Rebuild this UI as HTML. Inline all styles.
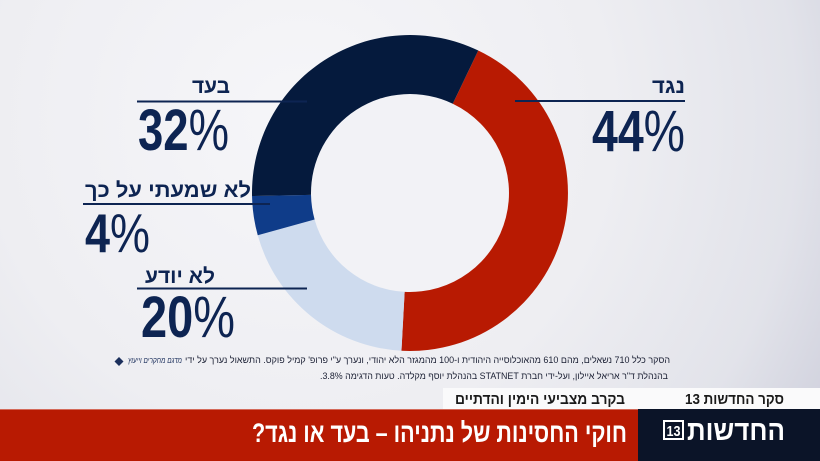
<!DOCTYPE html>
<html>
<head>
<meta charset="utf-8">
<style>
html,body{margin:0;padding:0;width:820px;height:461px;overflow:hidden;background:#eeeef2;}
svg{display:block;}
.heb{font-family:"Liberation Sans","DejaVu Sans",sans-serif;direction:rtl;unicode-bidi:embed;}
.num{font-family:"Liberation Sans","DejaVu Sans",sans-serif;}
</style>
</head>
<body>
<svg width="820" height="461" viewBox="0 0 820 461" xmlns="http://www.w3.org/2000/svg">
  <defs>
    <radialGradient id="bg" cx="300" cy="120" r="620" gradientUnits="userSpaceOnUse">
      <stop offset="0" stop-color="#f6f6f9"/>
      <stop offset="0.5" stop-color="#eeeef2"/>
      <stop offset="0.8" stop-color="#e2e3ea"/>
      <stop offset="1" stop-color="#cdcedb"/>
    </radialGradient>
  </defs>
  <rect x="0" y="0" width="820" height="461" fill="url(#bg)"/>

  <!-- donut -->
  <path d="M478.27,50.52 A158,158 0 0 1 401.45,350.76 L404.64,291.85 A99,99 0 0 0 452.78,103.72 Z" fill="#b81a02"/>
  <path d="M401.45,350.76 A158,158 0 0 1 257.75,235.22 L314.6,219.45 A99,99 0 0 0 404.64,291.85 Z" fill="#cedbee"/>
  <path d="M257.75,235.22 A158,158 0 0 1 252.03,196.03 L311.02,194.90 A99,99 0 0 0 314.6,219.45 Z" fill="#0f3c89"/>
  <path d="M252.03,196.03 A158,158 0 0 1 478.27,50.52 L452.78,103.72 A99,99 0 0 0 311.02,194.90 Z" fill="#051a3d"/>
  <circle cx="410" cy="193" r="98.5" fill="#f2f2f6"/>

  <!-- leader lines -->
  <rect x="137" y="100.5" width="170" height="2" fill="#0d2452"/>
  <rect x="515" y="100" width="170" height="2" fill="#0d2452"/>
  <rect x="83" y="203" width="187" height="2" fill="#0d2452"/>
  <rect x="137" y="287.5" width="170" height="2" fill="#0d2452"/>

  <!-- labels -->
  <text class="heb" x="211" y="93" font-size="21" font-weight="bold" fill="#0d2452" text-anchor="middle" textLength="38" lengthAdjust="spacingAndGlyphs">בעד</text>
  <text class="num" x="138" y="150" font-size="58" font-weight="bold" fill="#0d2452" textLength="91" lengthAdjust="spacingAndGlyphs">32<tspan font-weight="normal">%</tspan></text>

  <text class="heb" x="668.5" y="93" font-size="21" font-weight="bold" fill="#0d2452" text-anchor="middle" textLength="33" lengthAdjust="spacingAndGlyphs">נגד</text>
  <text class="num" x="592" y="151" font-size="58" font-weight="bold" fill="#0d2452" textLength="93" lengthAdjust="spacingAndGlyphs">44<tspan font-weight="normal">%</tspan></text>

  <text class="heb" x="168" y="197" font-size="21" font-weight="bold" fill="#0d2452" text-anchor="middle" textLength="166" lengthAdjust="spacingAndGlyphs">לא שמעתי על כך</text>
  <text class="num" x="85" y="252" font-size="55" font-weight="bold" fill="#0d2452" textLength="65" lengthAdjust="spacingAndGlyphs">4<tspan font-weight="normal">%</tspan></text>

  <text class="heb" x="180" y="283" font-size="21" font-weight="bold" fill="#0d2452" text-anchor="middle" textLength="70" lengthAdjust="spacingAndGlyphs">לא יודע</text>
  <text class="num" x="141" y="337" font-size="58" font-weight="bold" fill="#0d2452" textLength="94" lengthAdjust="spacingAndGlyphs">20<tspan font-weight="normal">%</tspan></text>

  <!-- footnote -->
  <path d="M119,357 L123.5,361.5 L119,366 L114.5,361.5 Z" fill="#1b2f5c"/>
  <text class="heb" x="155" y="363" font-size="8" font-style="italic" fill="#1b2f5c" text-anchor="middle" textLength="54" lengthAdjust="spacingAndGlyphs">מדגם מחקרים וייעוץ</text>
  <text class="heb" x="427.5" y="363" font-size="9" fill="#1a1f33" text-anchor="middle" textLength="485" lengthAdjust="spacingAndGlyphs">הסקר כלל 710 נשאלים, מהם 610 מהאוכלוסייה היהודית ו-100 מהמגזר הלא יהודי, ונערך ע"י פרופ' קמיל פוקס. התשאול  נערך על ידי</text>
  <text class="heb" x="494" y="379" font-size="9" fill="#1a1f33" text-anchor="middle" textLength="348" lengthAdjust="spacingAndGlyphs">בהנהלת ד"ר אריאל איילון, ועל-ידי חברת STATNET בהנהלת יוסף מקלדה. טעות הדגימה 3.8%.</text>

  <!-- bottom strip -->
  <rect x="443" y="388" width="377" height="21" fill="#fafafb"/>
  <text class="heb" x="734.5" y="404" font-size="15" font-weight="bold" fill="#1a1a1a" text-anchor="middle" textLength="99" lengthAdjust="spacingAndGlyphs">סקר החדשות 13</text>
  <text class="heb" x="540" y="404" font-size="15" font-weight="bold" fill="#1a1a1a" text-anchor="middle" textLength="170" lengthAdjust="spacingAndGlyphs">בקרב מצביעי הימין והדתיים</text>

  <!-- red bar -->
  <rect x="0" y="409" width="638" height="52" fill="#b81a02"/>
  <rect x="0" y="409" width="638" height="1" fill="#d46a5a"/>
  <text class="heb" x="439.5" y="442" font-size="27" font-weight="bold" fill="#ffffff" text-anchor="middle" textLength="375" lengthAdjust="spacingAndGlyphs">חוקי החסינות של נתניהו – בעד או נגד?</text>

  <!-- logo area -->
  <rect x="638" y="409" width="182" height="52" fill="#0b1428"/>
  <text class="heb" x="736" y="440" font-size="28" font-weight="bold" fill="#ffffff" text-anchor="middle" textLength="98" lengthAdjust="spacingAndGlyphs">החדשות</text>
  <rect x="664" y="421" width="19" height="18" fill="none" stroke="#ffffff" stroke-width="2"/>
  <text class="num" x="673.5" y="436" font-size="15" font-weight="bold" fill="#ffffff" text-anchor="middle" textLength="14" lengthAdjust="spacingAndGlyphs">13</text>
</svg>
</body>
</html>
